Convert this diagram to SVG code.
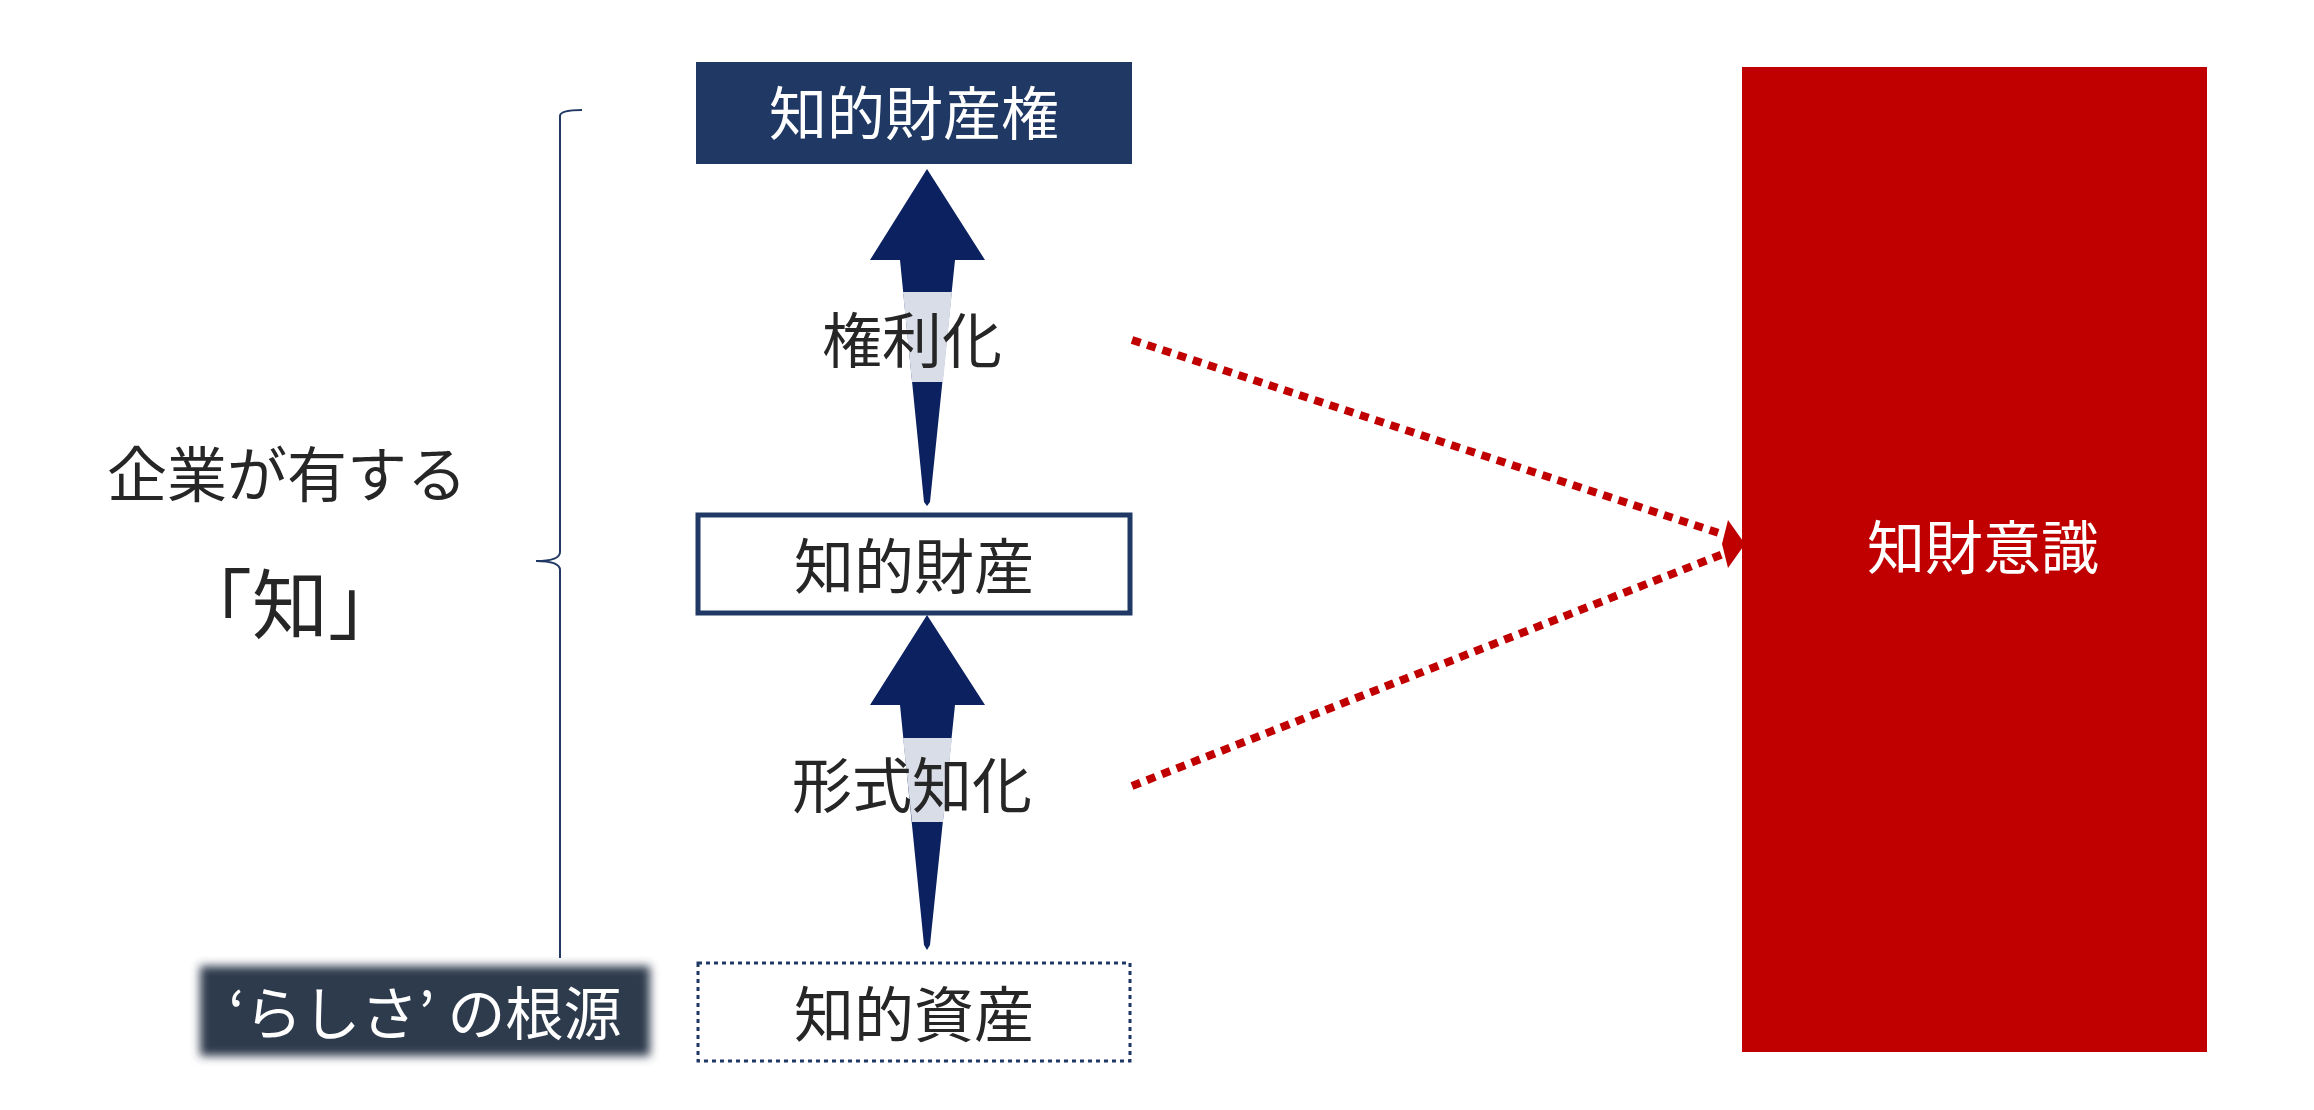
<svg xmlns="http://www.w3.org/2000/svg" width="2314" height="1110" viewBox="0 0 2314 1110">
<style>
text{font-family:"Noto Sans CJK JP","Noto Sans",sans-serif;text-anchor:middle;dominant-baseline:central}
.dk{fill:#262626;font-size:60px}
.wt{fill:#ffffff;font-size:58px}
</style>
<defs>
<filter id="blur" x="-10%" y="-20%" width="120%" height="140%"><feGaussianBlur stdDeviation="5"/></filter>
</defs>
<rect width="2314" height="1110" fill="#fff"/>
<g id="connectors">
<path d="M582,110 Q560,110 560,116 L560,552 Q560,561 536,561 Q560,561 560,570 L560,958" fill="none" stroke="#203864" stroke-width="2"/>
<g id="arrow1"><polygon points="927,169 985,260 955,260 930,502 927,506 924,502 900,260 870,260" fill="#0b2160"/><polygon points="903,292 952,292 943,382 912,382" fill="#d9dde7"/></g>
<g id="arrow2"><polygon points="927,615 985,705 955,705 930,945 927,950 924,945 900,705 870,705" fill="#0b2160"/><polygon points="903,738 952,738 943,822 912,822" fill="#d9dde7"/></g>
<line x1="1132" y1="340" x2="1728" y2="536" stroke="#c00000" stroke-width="8" stroke-dasharray="9 7"/>
<line x1="1132" y1="786" x2="1728" y2="552" stroke="#c00000" stroke-width="8" stroke-dasharray="9 7"/>
<polygon points="1728,520 1745,544 1728,568 1722,544" fill="#c00000"/>
</g>
<text class="dk" x="912" y="336">権利化</text>
<text class="dk" x="912" y="781">形式知化</text>
<g id="n1"><rect x="696" y="62" width="436" height="102" fill="#203864"/><text class="wt" x="914" y="110">知的財産権</text></g>
<g id="n2"><rect x="698" y="515" width="432" height="98" fill="#fff" stroke="#203864" stroke-width="5"/><text class="dk" x="914" y="562">知的財産</text></g>
<g id="n3"><rect x="698" y="963" width="432" height="98" fill="#fff" stroke="#203864" stroke-width="3" stroke-dasharray="4 4"/><text class="dk" x="914" y="1010">知的資産</text></g>
<g id="n4"><rect x="200" y="966" width="450" height="90" fill="#2e3a4e" filter="url(#blur)"/><text class="wt" x="425" y="1010">‘らしさ’ の根源</text></g>
<g id="n5"><rect x="1742" y="67" width="465" height="985" fill="#c00000"/><text class="wt" x="1983" y="544">知財意識</text></g>
<g id="n6"><text class="dk" x="287" y="470">企業が有する</text><text class="dk" x="290" y="600" style="font-size:76px">「知」</text></g>
</svg>
